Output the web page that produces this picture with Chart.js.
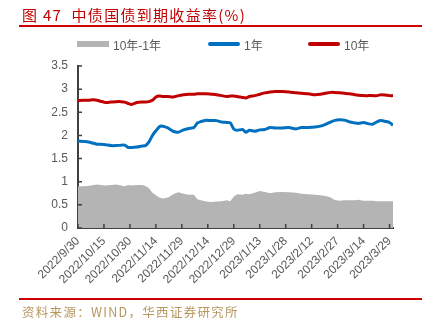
<!DOCTYPE html>
<html>
<head>
<meta charset="utf-8">
<script src="https://cdn.jsdelivr.net/npm/chart.js@4"></script>
<style>
  body { margin: 0; background: #fff; }
  #wrap { position: relative; width: 428px; height: 322px; overflow: hidden; }
  #chart { position: absolute; left: 0; top: 0; }
  .title { position: absolute; left: 22px; top: 4px; font: 15px "Noto Sans CJK SC", sans-serif; color: #c00000; letter-spacing: 1.3px; white-space: nowrap; }
  .rule { position: absolute; left: 19px; width: 403px; height: 2px; background: #d00000; }
  .legend-item { position: absolute; top: 36px; height: 16px; display: flex; align-items: center; font: 12px "Liberation Sans", "Noto Sans CJK SC", sans-serif; color: #595959; white-space: nowrap; }
  .legend-item span.mark { display: inline-block; width: 32px; margin-right: 4px; }
  .source { position: absolute; left: 22px; top: 302px; font: 12.5px "Noto Sans CJK SC", sans-serif; color: #b8965e; letter-spacing: 1.3px; white-space: nowrap; }
</style>
</head>
<body>
<div id="wrap">
  <canvas id="chart" width="428" height="322"></canvas>
  <div class="title">图 47&nbsp; 中债国债到期收益率(%)</div>
  <div class="rule" style="top:25px"></div>
  <div id="legend"></div>
  <div class="rule" style="top:298px"></div>
  <div class="source">资料来源：WIND，华西证券研究所</div>
</div>
<script>
// sample dates
const dates = [
  "2022-09-30", "2022-10-03", "2022-10-06", "2022-10-09", "2022-10-11", "2022-10-13",
  "2022-10-16", "2022-10-19", "2022-10-22", "2022-10-25", "2022-10-27", "2022-10-29",
  "2022-10-31", "2022-11-03", "2022-11-06", "2022-11-08", "2022-11-10", "2022-11-12",
  "2022-11-14", "2022-11-16", "2022-11-18", "2022-11-21", "2022-11-24", "2022-11-27",
  "2022-11-30", "2022-12-03", "2022-12-06", "2022-12-08", "2022-12-10", "2022-12-13",
  "2022-12-16", "2022-12-19", "2022-12-22", "2022-12-25", "2022-12-27", "2022-12-29",
  "2022-12-31", "2023-01-03", "2023-01-05", "2023-01-07", "2023-01-10", "2023-01-13",
  "2023-01-16", "2023-01-19", "2023-01-22", "2023-01-26", "2023-01-30", "2023-02-03",
  "2023-02-06", "2023-02-10", "2023-02-14", "2023-02-17", "2023-02-20", "2023-02-23",
  "2023-02-25", "2023-02-28", "2023-03-03", "2023-03-06", "2023-03-09", "2023-03-11",
  "2023-03-14", "2023-03-17", "2023-03-19", "2023-03-22", "2023-03-24", "2023-03-27",
  "2023-03-29", "2023-03-31"
];

const oneYear = [
  1.88, 1.87, 1.86, 1.83, 1.81, 1.81,
  1.80, 1.78, 1.78, 1.79, 1.79, 1.74,
  1.74, 1.75, 1.77, 1.78, 1.86, 2.00,
  2.10, 2.19, 2.20, 2.16, 2.09, 2.07,
  2.12, 2.15, 2.17, 2.27, 2.30, 2.33,
  2.32, 2.32, 2.29, 2.28, 2.27, 2.14,
  2.11, 2.13, 2.07, 2.11, 2.09, 2.12,
  2.13, 2.17, 2.16, 2.16, 2.17, 2.14,
  2.17, 2.17, 2.18, 2.20, 2.24, 2.29,
  2.32, 2.34, 2.33, 2.29, 2.27, 2.26,
  2.28, 2.25, 2.24, 2.30, 2.32, 2.30,
  2.28, 2.22
];

const tenYear = [
  2.75, 2.76, 2.76, 2.77, 2.76, 2.74,
  2.71, 2.72, 2.73, 2.73, 2.72, 2.69,
  2.67, 2.71, 2.72, 2.72, 2.73, 2.76,
  2.83, 2.85, 2.84, 2.84, 2.83, 2.86,
  2.88, 2.89, 2.89, 2.90, 2.90, 2.90,
  2.89, 2.88, 2.86, 2.84, 2.85, 2.85,
  2.84, 2.82, 2.81, 2.84, 2.86, 2.89,
  2.92, 2.94, 2.95, 2.95, 2.94, 2.92,
  2.91, 2.90, 2.88, 2.89, 2.91, 2.93,
  2.93, 2.92, 2.91, 2.90, 2.88, 2.87,
  2.86, 2.86, 2.86, 2.86, 2.88, 2.87,
  2.86, 2.86
];

const spread = [
  0.90, 0.90, 0.91, 0.93, 0.94, 0.93,
  0.92, 0.93, 0.94, 0.92, 0.90, 0.93,
  0.92, 0.93, 0.93, 0.91, 0.86, 0.76,
  0.71, 0.66, 0.64, 0.66, 0.73, 0.77,
  0.74, 0.72, 0.72, 0.62, 0.60, 0.57,
  0.56, 0.57, 0.58, 0.60, 0.58, 0.68,
  0.73, 0.72, 0.74, 0.73, 0.76, 0.80,
  0.78, 0.75, 0.77, 0.78, 0.77, 0.76,
  0.74, 0.73, 0.72, 0.71, 0.69, 0.66,
  0.61, 0.59, 0.60, 0.60, 0.60, 0.61,
  0.59, 0.59, 0.59, 0.58, 0.58, 0.58,
  0.58, 0.58
];

const tickLabels = [
  "2022/9/30", "2022/10/15", "2022/10/30", "2022/11/14", "2022/11/29", "2022/12/14",
  "2022/12/29", "2023/1/13", "2023/1/28", "2023/2/12", "2023/2/27", "2023/3/14", "2023/3/29"
];

const seriesNames = ["10年-1年", "1年", "10年"];
const seriesColors = ["#b4b4b4", "#0070c0", "#c00000"];

const startDay = Date.parse(dates[0]);
const dayOf = s => Math.round((Date.parse(s) - startDay) / 86400000);
const toPoints = vals => vals.map((v, i) => ({ x: dayOf(dates[i]), y: v }));

// html legend
const legendLeft = [77, 208, 308];
const legendEl = document.getElementById("legend");
seriesNames.forEach((name, i) => {
  const item = document.createElement("div");
  item.className = "legend-item";
  item.style.left = legendLeft[i] + "px";
  const mark = document.createElement("span");
  mark.className = "mark";
  mark.style.background = seriesColors[i];
  mark.style.height = i === 0 ? "6px" : "4px";
  mark.style.borderRadius = i === 0 ? "0" : "2px";
  item.appendChild(mark);
  item.appendChild(document.createTextNode(name));
  legendEl.appendChild(item);
});

// small tick marks pointing into the plot
const innerTicks = {
  id: "innerTicks",
  afterDatasetsDraw(chart) {
    const { ctx, chartArea, scales } = chart;
    ctx.save();
    ctx.strokeStyle = "#404040";
    ctx.lineWidth = 1.5;
    ctx.beginPath();
    scales.x.ticks.forEach(t => {
      const px = scales.x.getPixelForValue(t.value);
      ctx.moveTo(px, chartArea.bottom);
      ctx.lineTo(px, chartArea.bottom - 4);
    });
    scales.y.ticks.forEach(t => {
      const py = scales.y.getPixelForValue(t.value);
      ctx.moveTo(chartArea.left, py);
      ctx.lineTo(chartArea.left + 4, py);
    });
    ctx.stroke();
    ctx.restore();
  }
};

const tickFont = { family: "'Liberation Sans', 'Noto Sans CJK SC', sans-serif", size: 12 };

new Chart(document.getElementById("chart"), {
  type: "line",
  data: {
    datasets: [
      {
        label: seriesNames[0],
        data: toPoints(spread),
        backgroundColor: seriesColors[0],
        borderWidth: 0,
        fill: "origin",
        pointRadius: 0,
        tension: 0
      },
      {
        label: seriesNames[1],
        data: toPoints(oneYear),
        borderColor: seriesColors[1],
        backgroundColor: seriesColors[1],
        borderWidth: 3,
        fill: false,
        pointRadius: 0,
        tension: 0.2
      },
      {
        label: seriesNames[2],
        data: toPoints(tenYear),
        borderColor: seriesColors[2],
        backgroundColor: seriesColors[2],
        borderWidth: 3,
        fill: false,
        pointRadius: 0,
        tension: 0.2
      }
    ]
  },
  options: {
    responsive: false,
    animation: false,
    layout: { padding: { top: 66, right: 35, left: 0, bottom: 0 } },
    plugins: {
      legend: { display: false },
      tooltip: { enabled: false }
    },
    scales: {
      x: {
        type: "linear",
        min: 0,
        max: 182,
        grid: { drawOnChartArea: false, drawTicks: false },
        border: { display: true, color: "#404040", width: 2 },
        ticks: {
          stepSize: 15,
          includeBounds: false,
          autoSkip: false,
          maxRotation: 45,
          minRotation: 45,
          padding: 6,
          color: "#595959",
          font: tickFont,
          callback: v => tickLabels[Math.round(v / 15)]
        },
        afterFit: scale => { scale.height = 94; }
      },
      y: {
        min: 0,
        max: 3.5,
        grid: { drawOnChartArea: false, drawTicks: false },
        border: { display: true, color: "#404040", width: 2 },
        ticks: {
          stepSize: 0.5,
          padding: 10,
          color: "#595959",
          font: tickFont,
          callback: v => String(v)
        },
        afterFit: scale => { scale.width = 78; }
      }
    }
  },
  plugins: [innerTicks]
});
</script>
</body>
</html>
